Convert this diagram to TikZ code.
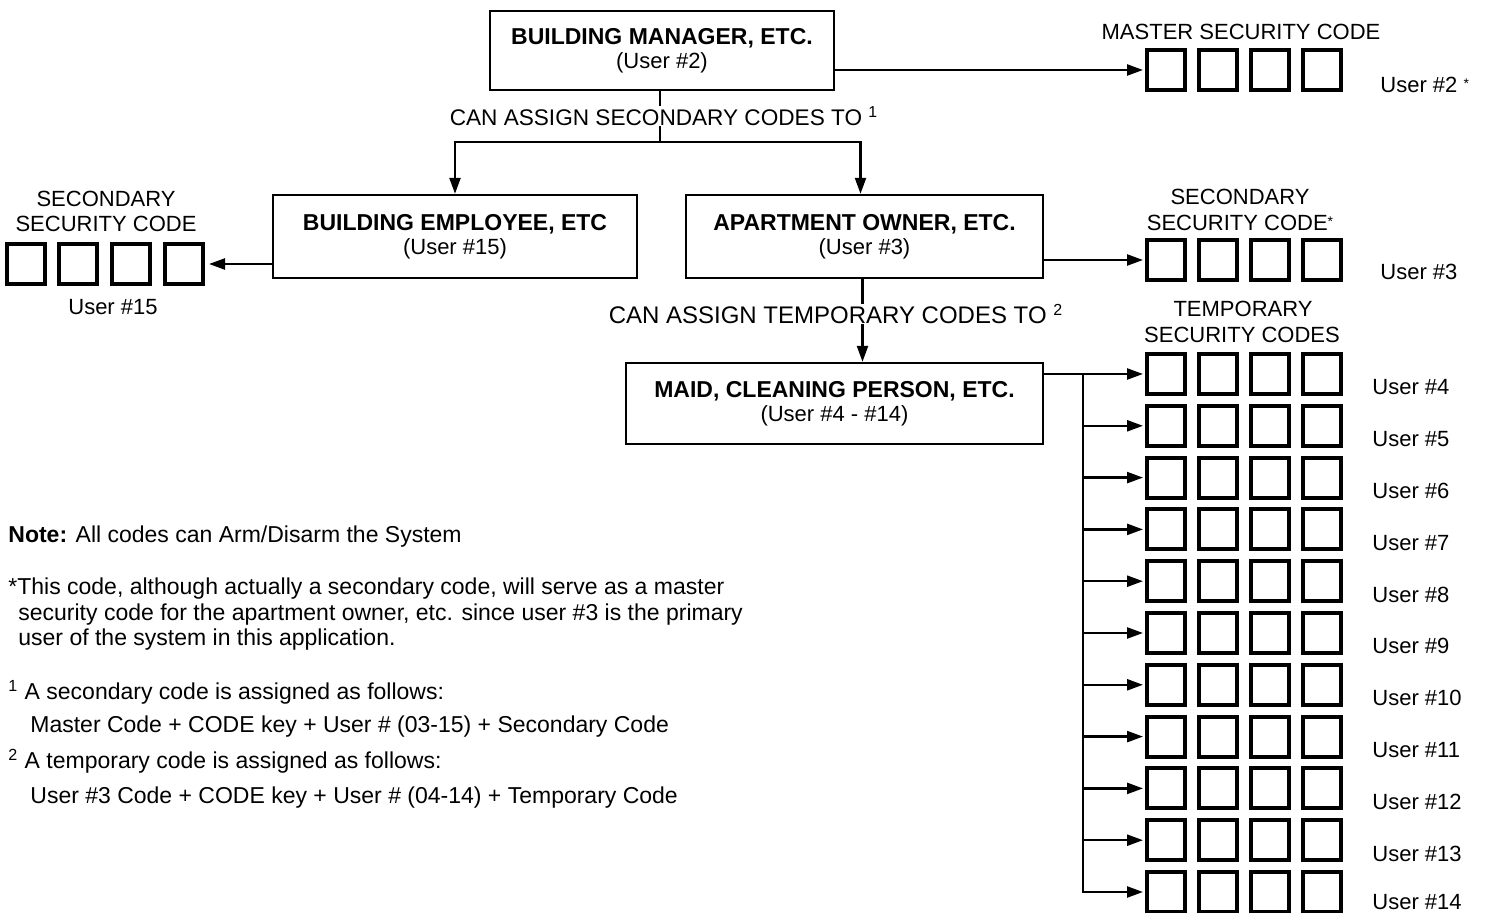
\documentclass[tikz,border=0pt]{standalone}
\usepackage{fontspec}
\setmainfont{Liberation Sans}
\usetikzlibrary{arrows.meta}
\newcommand{\smallast}{\raisebox{2pt}{\fontsize{7}{7}\selectfont *}}
\begin{document}
\begin{tikzpicture}[x=0.5pt,y=-0.5pt,
  box/.style={draw,line width=1.2pt,inner sep=0,align=center,font=\fontsize{11}{12}\selectfont},
  sq/.style={draw,line width=2pt,minimum width=19pt,minimum height=20pt,inner sep=0},
  arr/.style={line width=1.2pt,-{Triangle[length=8pt,width=5.5pt]}},
  ln/.style={line width=1.2pt},
  txt/.style={font=\fontsize{11}{13}\selectfont,inner sep=0},
  note/.style={font=\fontsize{11.5}{13}\selectfont,inner sep=0,anchor=base west}
]
\useasboundingbox (0,0) rectangle (1489,913);

% boxes
\node[box,minimum width=172pt,minimum height=39.5pt] (mgr) at (662,50.5)
  {{\bfseries\fontsize{11.5}{12}\selectfont BUILDING MANAGER, ETC.}\\(User \#2)};
\node[box,minimum width=182pt,minimum height=41.5pt] (emp) at (455,236.5)
  {{\bfseries\fontsize{11.5}{12}\selectfont BUILDING EMPLOYEE, ETC}\\(User \#15)};
\node[box,minimum width=178.5pt,minimum height=41.5pt] (own) at (864.5,236.5)
  {{\bfseries\fontsize{11.5}{12}\selectfont APARTMENT OWNER, ETC.}\\(User \#3)};
\node[box,minimum width=208.5pt,minimum height=40.5pt] (maid) at (834.5,403.5)
  {{\bfseries\fontsize{11.5}{12}\selectfont MAID, CLEANING PERSON, ETC.}\\(User \#4 - \#14)};

% squares
\foreach \i/\x in {1/1166,2/1218,3/1270,4/1322}{
  \node[sq] (m\i) at (\x,70) {};
  \node[sq] (s\i) at (\x,260) {};
}
\foreach \i/\x in {1/26,2/78,3/131,4/184}{
  \node[sq] (e\i) at (\x,264) {};
}
\foreach \r in {1,...,11}{
  \pgfmathsetmacro\yy{374+51.8*(\r-1)}
  \pgfmathsetmacro\ly{\yy+21-4*(\r==11)}
  \pgfmathtruncatemacro\uu{\r+3}
  \foreach \i/\x in {1/1166,2/1218,3/1270,4/1322}{
    \node[sq] (t\r-\i) at (\x,\yy) {};
  }
  \node[txt,anchor=base west] (u\r) at (1372,\ly) {User \#\uu};
}

% titles and user labels
\node[txt,anchor=base] (tm) at (1241,40) {MASTER SECURITY CODE};
\node[txt,anchor=base west] (u2) at (1380,93) {User \#2 \smallast};
\node[txt,anchor=base] (ts1) at (1240,205) {SECONDARY};
\node[txt,anchor=base] (ts2) at (1240,231) {SECURITY CODE\smallast};
\node[txt,anchor=base west] (u3) at (1380,280) {User \#3};
\node[txt,anchor=base] (tt1) at (1243,317) {TEMPORARY};
\node[txt,anchor=base] (tt2) at (1242,343) {SECURITY CODES};
\node[txt,anchor=base] (te1) at (106,207) {SECONDARY};
\node[txt,anchor=base] (te2) at (106,232) {SECURITY CODE};
\node[txt,anchor=base] (u15) at (113,315) {User \#15};

% assignment labels
\node[inner sep=0,font=\fontsize{11.3}{13}\selectfont] (lab1) at (664,116)
  {CAN ASSIGN SECONDARY CODES TO \textsuperscript{1}};
\node[inner sep=0,font=\fontsize{12}{14}\selectfont] (lab2) at (836,314)
  {CAN ASSIGN TEMPORARY CODES TO \textsuperscript{2}};

% connectors
\coordinate (split1) at (660,142);
\draw[ln] (mgr.south -| split1) -- (lab1.north -| split1);
\draw[ln] (lab1.south -| split1) -- (split1);
\draw[arr] (split1) -| (emp.north);
\draw[arr] (split1) -| ([xshift=-2pt]own.north);
\draw[ln] ([xshift=-1pt]own.south) -- ([xshift=-1pt]own.south |- lab2.north);
\draw[arr] ([xshift=-1pt]own.south |- lab2.south) -- ([xshift=-1pt]own.south |- maid.north);

\draw[arr] (mgr.east |- m1.west) -- ([xshift=-1pt]m1.west);
\draw[arr] (own.east |- s1.west) -- ([xshift=-1pt]s1.west);
\draw[arr] (emp.west |- e4.east) -- ([xshift=2pt]e4.east);

\draw[arr] (maid.east |- t1-1.west) -- ([xshift=-1pt]t1-1.west);
\coordinate (bus) at (1083,374);
\foreach \r in {2,...,10}{
  \draw[arr] (bus |- t\r-1.west) -- ([xshift=-1pt]t\r-1.west);
}
\draw[arr] (bus) |- ([xshift=-1pt]t11-1.west);

% notes
\node[note] (n1) at (8,543) {\textbf{Note:} All codes can Arm/Disarm the System};
\node[note] (n2) at (8,595) {*This code, although actually a secondary code, will serve as a master};
\node[note] (n3) at (18,621) {security code for the apartment owner, etc. since user \#3 is the primary};
\node[note] (n4) at (18,646) {user of the system in this application.};
\node[note] (n5) at (8,700) {\textsuperscript{1} A secondary code is assigned as follows:};
\node[note] (n6) at (30,733) {Master Code + CODE key + User \# (03-15) + Secondary Code};
\node[note] (n7) at (8,769) {\textsuperscript{2} A temporary code is assigned as follows:};
\node[note] (n8) at (30,804) {User \#3 Code + CODE key + User \# (04-14) + Temporary Code};
\end{tikzpicture}
\end{document}
